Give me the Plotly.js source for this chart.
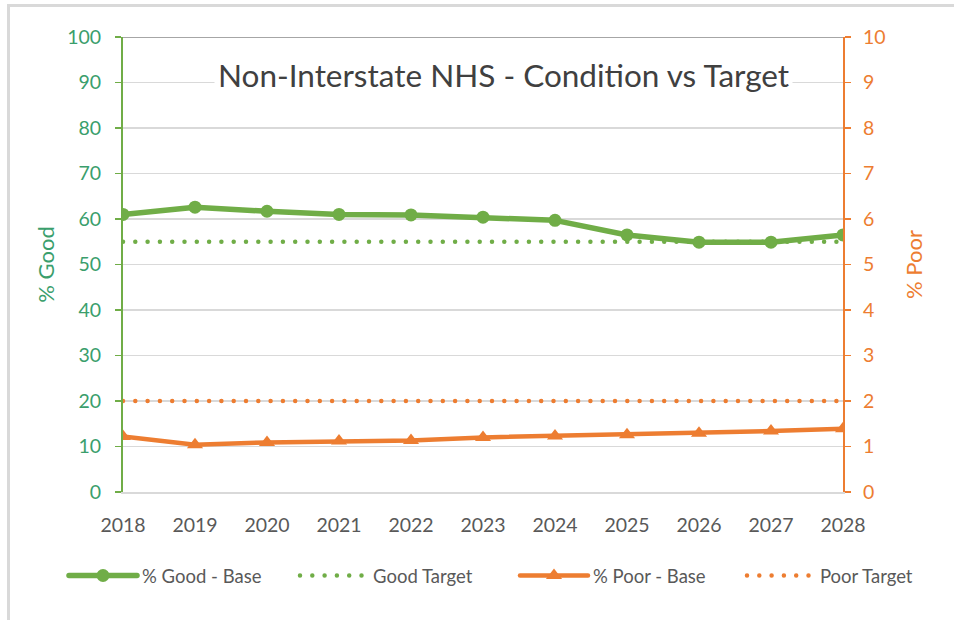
<!DOCTYPE html>
<html>
<head>
<meta charset="utf-8">
<script src="https://cdn.plot.ly/plotly-3.0.1.min.js"></script>
<style>
  html, body { margin:0; padding:0; background:#ffffff; }
  #frame { position:absolute; left:7px; top:4px; width:947px; height:616px;
           border-top:3px solid #d9d9d9; border-left:3px solid #d9d9d9; box-sizing:border-box; }
  #chart { position:absolute; left:0; top:0; width:954px; height:620px; }
  #chart .js-line { stroke-linecap: round; stroke-linejoin: round; }
  #chart .legendlines path { stroke-linecap: round; }
</style>
</head>
<body>
<div id="frame"></div>
<div id="chart"></div>
<script>
const years = ['2018','2019','2020','2021','2022','2023','2024','2025','2026','2027','2028'];
const goodBase = [61.0, 62.6, 61.7, 61.0, 60.9, 60.4, 59.7, 56.5, 54.9, 54.9, 56.5];
const goodTarget = [55, 55, 55, 55, 55, 55, 55, 55, 55, 55, 55];
const poorBase = [1.22, 1.04, 1.09, 1.12, 1.13, 1.20, 1.23, 1.26, 1.29, 1.34, 1.39];
const poorTarget = [2, 2, 2, 2, 2, 2, 2, 2, 2, 2, 2];
const leftTicks = [0,10,20,30,40,50,60,70,80,90,100];
const rightTicks = [0,1,2,3,4,5,6,7,8,9,10];

const GREEN = '#70AD47', ORANGE = '#ED7D31';
const LEFTTXT = '#3A9E6C';
const FONT = 'Lato, "Open Sans", sans-serif';

const traces = [
  { x: years, y: goodBase, name: '% Good - Base', type: 'scatter', mode: 'lines+markers', legend: 'legend',
    line: { color: GREEN, width: 5.5 }, marker: { color: GREEN, size: 13, symbol: 'circle' } },
  { x: years, y: goodTarget, name: 'Good Target', type: 'scatter', mode: 'lines', legend: 'legend2',
    line: { color: GREEN, width: 4.5, dash: '0px,12.3px' } },
  { x: years, y: poorBase, name: '% Poor - Base', type: 'scatter', mode: 'lines+markers', yaxis: 'y2', legend: 'legend3',
    line: { color: ORANGE, width: 4.5 }, marker: { color: ORANGE, size: 14, symbol: 'triangle-up' } },
  { x: years, y: poorTarget, name: 'Poor Target', type: 'scatter', mode: 'lines', yaxis: 'y2', legend: 'legend4',
    line: { color: ORANGE, width: 4.5, dash: '0px,12.3px' } }
];

function leg(px) {
  return { orientation: 'h', x: (px - 123) / 720, xanchor: 'left', y: -0.1846, yanchor: 'middle',
           font: { family: FONT, size: 18.5, color: '#595959' }, itemwidth: 68,
           bgcolor: 'rgba(0,0,0,0)', borderwidth: 0 };
}

const layout = {
  width: 954, height: 620,
  margin: { l: 123, r: 111, t: 37, b: 128 },
  paper_bgcolor: 'rgba(0,0,0,0)', plot_bgcolor: '#ffffff',
  font: { family: FONT, color: '#595959', size: 19 },
  showlegend: true,
  legend: leg(64), legend2: leg(295), legend3: leg(515), legend4: leg(742),
  xaxis: { type: 'category', range: [0, 10], showgrid: false, zeroline: false,
           showline: true, linecolor: '#d9d9d9', linewidth: 1.5, ticks: '', ticklabelstandoff: 15,
           tickfont: { family: FONT, size: 19.5, color: '#595959' }, fixedrange: true },
  yaxis: { range: [0, 100], tickvals: leftTicks, showgrid: true, gridcolor: '#d9d9d9', gridwidth: 1.5,
           zeroline: false, showline: true, linecolor: GREEN, linewidth: 2,
           ticks: 'outside', ticklen: 6, tickcolor: GREEN, tickwidth: 1.5, ticklabelstandoff: 10,
           tickfont: { family: FONT, size: 19.5, color: LEFTTXT },
           title: { text: '% Good', font: { family: FONT, size: 22, color: LEFTTXT }, standoff: 6 } },
  yaxis2: { range: [0, 10], tickvals: rightTicks, overlaying: 'y', side: 'right', showgrid: false,
            zeroline: false, showline: true, linecolor: ORANGE, linewidth: 2,
            ticks: 'outside', ticklen: 6, tickcolor: ORANGE, tickwidth: 1.5, ticklabelstandoff: 8,
            tickfont: { family: FONT, size: 19.5, color: ORANGE },
            title: { text: '% Poor', font: { family: FONT, size: 22, color: ORANGE }, standoff: 22 } },
  shapes: [
    { type: 'line', xref: 'paper', yref: 'y', x0: 0, x1: 1, y0: 100, y1: 100,
      line: { color: '#a6a6a6', width: 2 }, layer: 'below' }
  ],
  annotations: [
    { text: 'Non-Interstate NHS - Condition vs Target', xref: 'paper', yref: 'paper',
      x: 0.528, y: 0.916, xanchor: 'center', yanchor: 'middle', showarrow: false,
      font: { family: FONT, size: 31.5, color: '#404040' }, bgcolor: '#ffffff', borderpad: 3 }
  ]
};

Plotly.newPlot('chart', traces, layout, { displayModeBar: false, staticPlot: true });
</script>
</body>
</html>
